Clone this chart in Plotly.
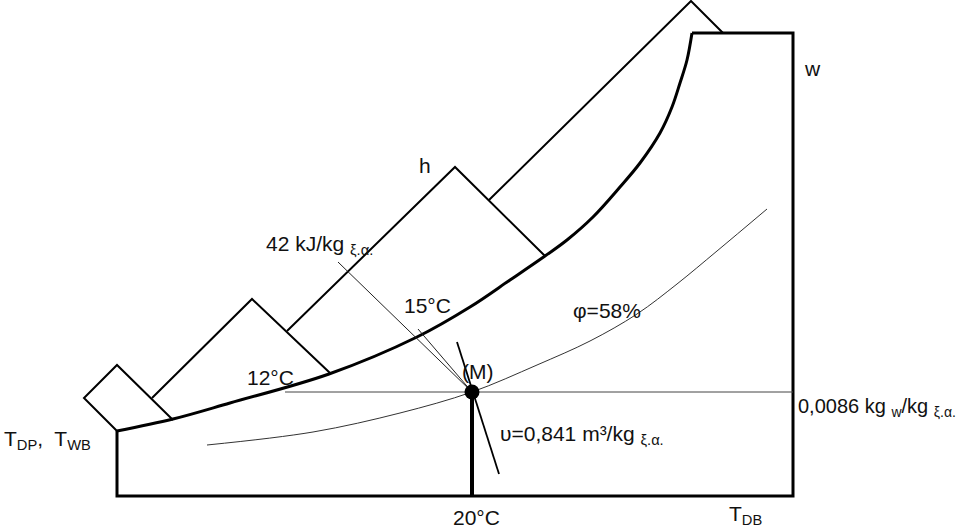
import plotly.graph_objects as go

# Chart coordinates (diagram units, y grows downward)
sat_x = [117, 173, 230, 329, 417, 470, 510, 545, 567, 593, 620, 640, 660, 672, 680, 687, 692]
sat_y = [431, 419, 403, 374, 337, 307, 280, 256, 240, 217, 187, 163, 133, 107, 83, 60, 33]

rh_x = [207, 313, 400, 472, 537, 590, 637, 677, 717, 767]
rh_y = [445, 432, 413, 392, 365, 341, 314, 284, 251, 209]

frame_x = [692, 793, 793, 117, 117]
frame_y = [33, 33, 496, 496, 431]

# enthalpy scale zigzag segments
h1_x = [117, 84, 117, 173]
h1_y = [431, 398, 365, 420]
h2_x = [152, 252, 330]
h2_y = [398, 299, 373]
h3_x = [287, 455, 545]
h3_y = [331, 167, 256]
h4_x = [489, 691, 723]
h4_y = [200, 1, 33]

state_x, state_y = 472, 392
w_line_x = [285, 793]
enth_line = ([338, 472], [262, 392])
wb_line = ([418, 472], [329, 392])
vol_line = ([457, 499], [342, 474])
tdb_line = ([472, 472], [392, 496])

fig = go.Figure()

def add_line(xs, ys, width, color="black", shape="linear", smoothing=1):
    fig.add_trace(go.Scatter(x=xs, y=ys, mode="lines",
                             line=dict(color=color, width=width, shape=shape,
                                       smoothing=smoothing),
                             hoverinfo="skip", showlegend=False))

add_line(frame_x, frame_y, 3)
add_line(sat_x, sat_y, 3, shape="spline")
add_line(rh_x, rh_y, 1, color="#333333", shape="spline", smoothing=1)
for hx, hy in [(h1_x, h1_y), (h2_x, h2_y), (h3_x, h3_y), (h4_x, h4_y)]:
    add_line(hx, hy, 2)
add_line(w_line_x, [state_y, state_y], 1, color="#444444")
add_line(*enth_line, 1, color="#222222")
add_line(*wb_line, 1, color="#222222")
add_line(*vol_line, 1.8)
add_line(*tdb_line, 4)

fig.add_trace(go.Scatter(x=[state_x], y=[state_y], mode="markers",
                         marker=dict(color="black", size=15),
                         hoverinfo="skip", showlegend=False))

labels = [
    ("w", 812, 68, "center", 21),
    ("h", 425, 165, "center", 21),
    ("42 kJ/kg <sub>ξ.α.</sub>", 264, 245, "left", 21),
    ("15°C", 402, 305, "left", 21),
    ("12°C", 245, 377, "left", 21),
    ("(M)", 460, 371, "left", 21),
    ("φ=58%", 571, 310, "left", 21),
    ("υ=0,841 m³/kg <sub>ξ.α.</sub>", 498, 435, "left", 21),
    ("0,0086 kg <sub>w</sub>/kg <sub>ξ.α.</sub>", 796, 407, "left", 20),
    ("T<sub>DP</sub>,  T<sub>WB</sub>", 2, 440, "left", 21),
    ("20°C", 476, 517, "center", 21),
    ("T<sub>DB</sub>", 745, 515, "center", 21),
]
for txt, x, y, anc, sz in labels:
    fig.add_annotation(x=x, y=y, text=txt, showarrow=False, xanchor=anc,
                       yanchor="middle", xref="x", yref="y",
                       font=dict(family="Liberation Sans, Arial", size=sz, color="#111111"))

fig.update_xaxes(range=[0, 960], visible=False, fixedrange=True)
fig.update_yaxes(range=[529, 0], visible=False, fixedrange=True)
fig.update_layout(width=960, height=529, margin=dict(l=0, r=0, t=0, b=0),
                  plot_bgcolor="white", paper_bgcolor="white")

fig.write_html("out.html")
